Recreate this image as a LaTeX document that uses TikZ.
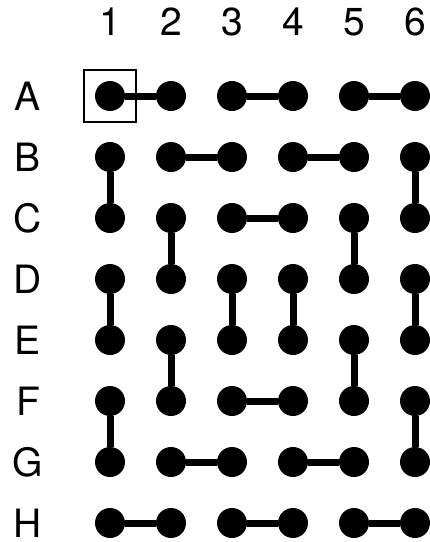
\documentclass[tikz,border=0pt]{standalone}
\usepackage{fontspec}
\setmainfont{TeX Gyre Heros}
\tikzset{
  dot/.style={circle, fill=black, inner sep=0pt, minimum size=30pt},
  link/.style={line width=7pt},
  lbl/.style={font=\fontsize{39}{42}\selectfont, inner sep=0pt}
}
\begin{document}
\begin{tikzpicture}[x=1pt, y=-1pt]
    \useasboundingbox (0,0) rectangle (430,542);

    % Node definitions
    \foreach \r [count=\i] in {A,B,C,D,E,F,G,H} {
        \node[lbl] (row\r) at (28, 35+61*\i) {\r};
        \foreach \c in {1,...,6}
            \node[dot] (\r\c) at (49+61*\c, 35+61*\i) {};
    }
    \foreach \c in {1,...,6}
        \node[lbl] (col\c) at (49+61*\c, 22) {\c};

    % Selected cell
    \node[draw, line width=1.5pt, minimum size=52pt] (sel) at (A1) {};

    % Horizontal links
    \draw[link] (A1) -- (A2);
    \draw[link] (A3) -- (A4);
    \draw[link] (A5) -- (A6);
    \draw[link] (B2) -- (B3);
    \draw[link] (B4) -- (B5);
    \draw[link] (C3) -- (C4);
    \draw[link] (F3) -- (F4);
    \draw[link] (G2) -- (G3);
    \draw[link] (G4) -- (G5);
    \draw[link] (H1) -- (H2);
    \draw[link] (H3) -- (H4);
    \draw[link] (H5) -- (H6);

    % Vertical links
    \draw[link] (B1) -- (C1);
    \draw[link] (B6) -- (C6);
    \draw[link] (C2) -- (D2);
    \draw[link] (C5) -- (D5);
    \draw[link] (D1) -- (E1);
    \draw[link] (D3) -- (E3);
    \draw[link] (D4) -- (E4);
    \draw[link] (D6) -- (E6);
    \draw[link] (E2) -- (F2);
    \draw[link] (E5) -- (F5);
    \draw[link] (F1) -- (G1);
    \draw[link] (F6) -- (G6);
\end{tikzpicture}
\end{document}
